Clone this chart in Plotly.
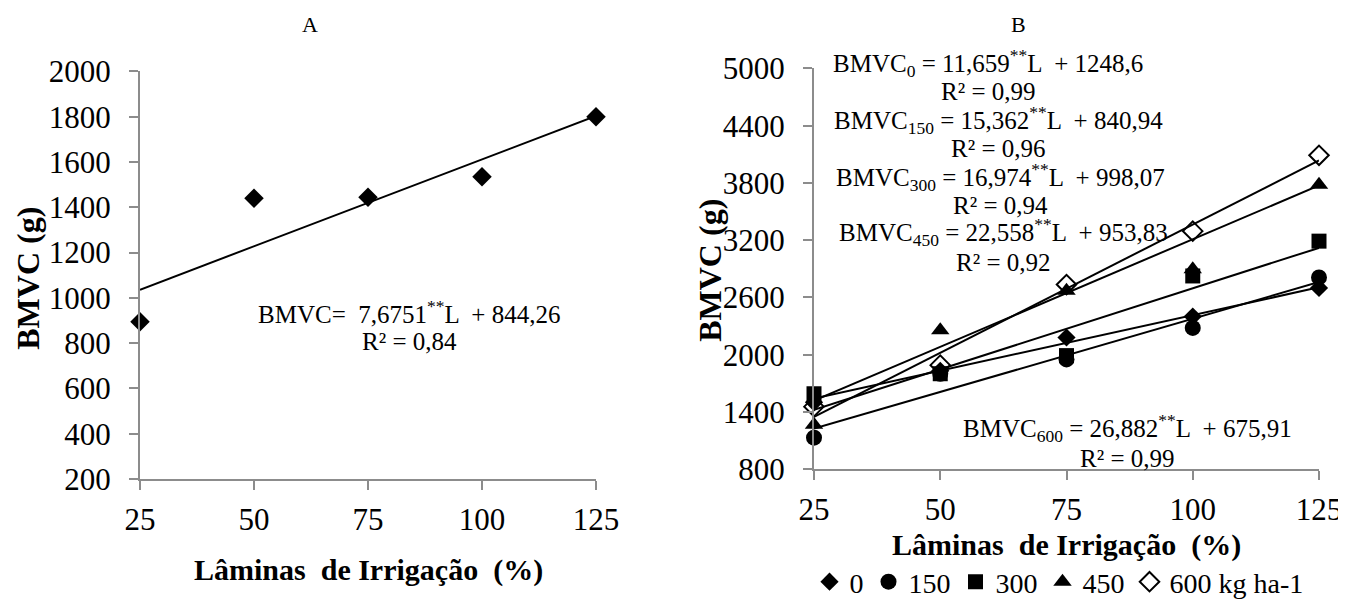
import plotly.graph_objects as go

# ---------------- data ----------------
laminas = [25, 50, 75, 100, 125]

# Panel A
bmvc_a = [895, 1440, 1445, 1535, 1800]
slope_a = 7.6751
icept_a = 844.26

# Panel B (N doses, kg ha-1)
doses = ["0", "150", "300", "450", "600 kg ha-1"]
bmvc_0 = [1500, 1830, 2180, 2400, 2700]
bmvc_150 = [1130, 1800, 1950, 2280, 2810]
bmvc_300 = [1590, 1800, 1990, 2825, 3190]
bmvc_450 = [1265, 2255, 2670, 2895, 3780]
bmvc_600 = [1455, 1890, 2735, 3295, 4090]
slopes_b = [11.659, 15.362, 16.974, 22.558, 26.882]
icepts_b = [1248.6, 840.94, 998.07, 953.83, 675.91]
r2_b = ["0,99", "0,96", "0,94", "0,92", "0,99"]
sub_b = ["0", "150", "300", "450", "600"]

x_ticks_a = [25, 50, 75, 100, 125]
y_ticks_a = list(range(200, 2001, 200))
y_ticks_b = list(range(800, 5001, 600))

# ---------------- figure ----------------
OFF = 8                      # page body margin
W, H = 1346 - OFF, 607 - OFF
FONT = "Liberation Serif"
AX = "#8c8c8c"

def px(x):
    return (x - OFF) / W

def py(y):
    return 1 - (y - OFF) / H

fig = go.Figure()

# Panel A
fig.add_trace(go.Scatter(
    x=laminas, y=bmvc_a, mode="markers", showlegend=False,
    marker=dict(symbol="diamond", size=15, color="black"),
    cliponaxis=False, xaxis="x", yaxis="y"))
xa_line = [laminas[0], laminas[-1]]
fig.add_trace(go.Scatter(
    x=xa_line, y=[slope_a * v + icept_a for v in xa_line], mode="lines",
    showlegend=False, line=dict(color="black", width=2),
    cliponaxis=False, xaxis="x", yaxis="y"))

# Panel B
series_b = [bmvc_0, bmvc_150, bmvc_300, bmvc_450, bmvc_600]
markers_b = [
    dict(symbol="diamond", size=14, color="black"),
    dict(symbol="circle", size=16, color="black"),
    dict(symbol="square", size=15, color="black"),
    dict(symbol="triangle-up", size=16, color="black"),
    dict(symbol="diamond-open", size=15, color="black", line=dict(width=2, color="black")),
]
for name, vals, mk in zip(doses, series_b, markers_b):
    fig.add_trace(go.Scatter(
        x=laminas, y=vals, mode="markers", name=name, marker=mk,
        cliponaxis=False, xaxis="x2", yaxis="y2"))
for s, b in zip(slopes_b, icepts_b):
    fig.add_trace(go.Scatter(
        x=xa_line, y=[s * v + b for v in xa_line], mode="lines",
        showlegend=False, line=dict(color="black", width=2),
        cliponaxis=False, xaxis="x2", yaxis="y2"))

axis_common = dict(
    showline=True, linecolor=AX, linewidth=2, showgrid=False, zeroline=False,
    ticks="outside", ticklen=9, tickwidth=2, tickcolor=AX, automargin=False,
    tickfont=dict(family=FONT, size=31, color="black"),
)

fig.update_layout(
    template="none",
    width=W, height=H,
    margin=dict(l=0, r=0, t=0, b=0, pad=0),
    paper_bgcolor="white", plot_bgcolor="white",
    font=dict(family=FONT, color="black"),
    xaxis=dict(domain=[px(140), px(596)], range=[25, 125], tickvals=x_ticks_a,
               anchor="y", ticklabelstandoff=3, **axis_common),
    yaxis=dict(domain=[py(483), py(72)], range=[200, 2000], tickvals=y_ticks_a,
               anchor="x", ticklabelstandoff=12, **axis_common),
    xaxis2=dict(domain=[px(814), px(1319)], range=[25, 125], tickvals=x_ticks_a,
                anchor="y2", ticklabelstandoff=3, **axis_common),
    yaxis2=dict(domain=[py(473), py(69)], range=[800, 5000], tickvals=y_ticks_b,
                anchor="x2", ticklabelstandoff=12, **axis_common),
    legend=dict(orientation="h", x=px(1059), xanchor="center", y=py(587), yanchor="middle",
                font=dict(family=FONT, size=28, color="black"),
                bgcolor="rgba(0,0,0,0)", itemwidth=30, tracegroupgap=0),
)

ann = []

def add_text(text, x, y, font, angle=0):
    ann.append(dict(text=text, x=px(x), y=py(y), xref="paper", yref="paper",
                    xanchor="center", yanchor="middle", textangle=angle,
                    showarrow=False, font=font))

# panel titles
title_small = dict(family=FONT, size=22, color="black")
add_text("A", 310, 25, title_small)
add_text("B", 1018, 25, title_small)

# axis titles
title_font = dict(family=FONT, size=30, color="black")
ytitle_font = dict(family=FONT, size=32, color="black")
add_text("<b>BMVC (g)</b>", 28, 281, ytitle_font, -90)
add_text("<b>BMVC (g)</b>", 710, 273, ytitle_font, -90)
add_text("<b>Lâminas  de Irrigação  (%)</b>", 368, 575, title_font)
add_text("<b>Lâminas  de Irrigação  (%)</b>", 1066, 550, title_font)

eq_font = dict(family=FONT, size=25, color="black")
def fmt(v):
    return f"{v}".replace(".", ",")

# panel A equation (pixel positions)
add_text(f"BMVC=  {fmt(slope_a)}<sup>**</sup>L  + {fmt(icept_a)}", 409, 315, eq_font)
add_text("R² = 0,84", 409, 344, eq_font)

# panel B equations (pixel positions: line 1, line 2)
eq_pos = [(988, 63, 92), (998, 121, 150), (1000, 178, 207),
          (1003, 234, 265), (1127, 432, 462)]
for sub, s, b, r2, (ex, ey1, ey2) in zip(sub_b, slopes_b, icepts_b, r2_b, eq_pos):
    add_text(f"BMVC<sub>{sub}</sub> = {fmt(s)}<sup>**</sup>L  + {fmt(b)}", ex, ey1, eq_font)
    add_text(f"R² = {r2}", ex, ey2, eq_font)

fig.update_layout(annotations=ann)
fig.write_html("out.html")
